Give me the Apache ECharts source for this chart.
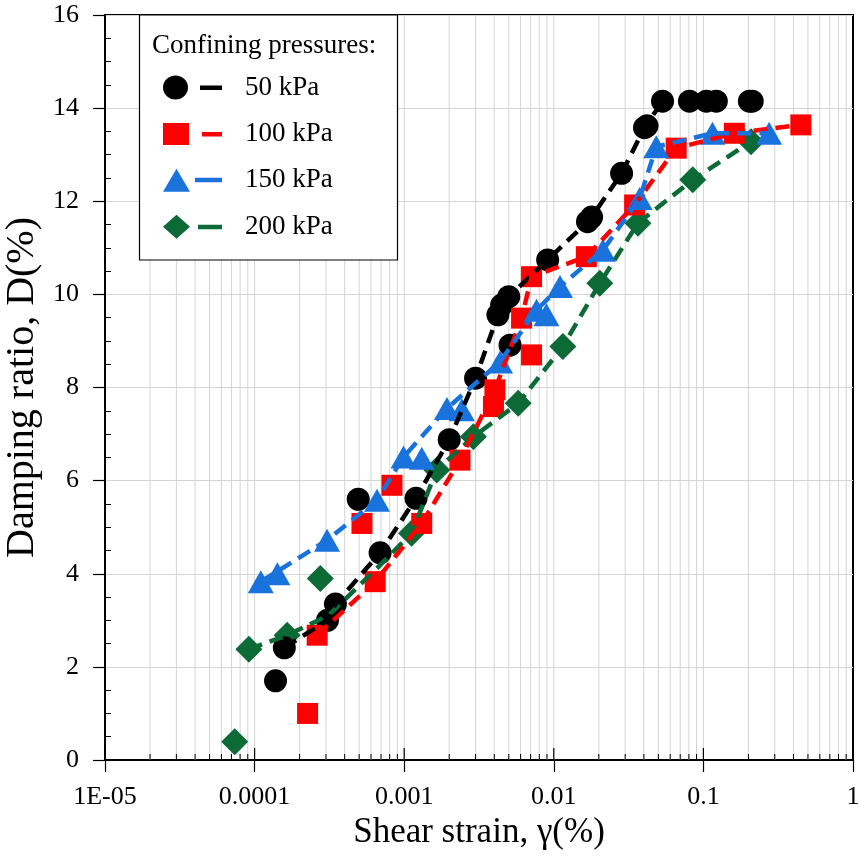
<!DOCTYPE html>
<html>
<head>
<meta charset="utf-8">
<script src="https://cdn.jsdelivr.net/npm/echarts@6/dist/echarts.min.js"></script>
<style>
  html, body { margin: 0; padding: 0; background: #fff; }
  #chart { width: 859px; height: 860px; }
</style>
</head>
<body>
<div id="chart"></div>
<script>
// Damping ratio D(%) versus shear strain γ(%) for four confining pressures.
// Each pressure has measured points [strain, D] and a dashed trend curve.

const pressureNames = ['50 kPa', '100 kPa', '150 kPa', '200 kPa'];

const points50 = [
  [1.38e-4, 1.70], [1.58e-4, 2.41], [3.07e-4, 3.00], [3.47e-4, 3.35], [4.93e-4, 5.60],
  [6.9e-4, 4.45], [1.2e-3, 5.62], [2.0e-3, 6.88], [3.0e-3, 8.20], [4.23e-3, 9.56],
  [4.48e-3, 9.77], [5.0e-3, 9.95], [5.1e-3, 8.91], [9.1e-3, 10.74], [0.0168, 11.56],
  [0.0179, 11.66], [0.0284, 12.60], [0.0404, 13.58], [0.042, 13.62], [0.0533, 14.15],
  [0.0807, 14.15], [0.1047, 14.15], [0.122, 14.15], [0.203, 14.15], [0.212, 14.15]
];
const curve50 = [
  [1.58e-4, 2.41], [3.07e-4, 3.00], [3.47e-4, 3.35], [6.9e-4, 4.45], [1.2e-3, 5.62],
  [2.0e-3, 6.88], [3.0e-3, 8.20], [4.23e-3, 9.56], [4.48e-3, 9.77], [5.0e-3, 9.95],
  [9.1e-3, 10.74], [0.0168, 11.56], [0.0179, 11.66], [0.0284, 12.60], [0.0404, 13.58],
  [0.0533, 14.15]
];

const points100 = [
  [2.26e-4, 1.00], [2.62e-4, 2.68], [5.22e-4, 5.08], [6.4e-4, 3.83], [8.28e-4, 5.90],
  [1.31e-3, 5.08], [2.36e-3, 6.44], [4.04e-3, 7.95], [3.95e-3, 7.59], [6.09e-3, 9.49],
  [7.1e-3, 8.70], [7.1e-3, 10.38], [0.0165, 10.81], [0.0347, 11.92], [0.0658, 13.14],
  [0.161, 13.46], [0.448, 13.64]
];
const curve100 = [
  [2.62e-4, 2.68], [6.4e-4, 3.83], [1.31e-3, 5.08], [2.36e-3, 6.44], [4.04e-3, 7.95],
  [6.09e-3, 9.49], [7.1e-3, 10.38], [0.0165, 10.81], [0.0347, 11.92], [0.0658, 13.14],
  [0.161, 13.46], [0.448, 13.64]
];

const points150 = [
  [1.1e-4, 3.83], [1.42e-4, 4.00], [3.05e-4, 4.72], [6.58e-4, 5.58], [9.9e-4, 6.51],
  [1.31e-3, 6.48], [1.93e-3, 7.55], [2.43e-3, 7.52], [4.37e-3, 8.55], [7.67e-3, 9.66],
  [8.93e-3, 9.56], [0.011, 10.17], [0.0213, 10.95], [0.0375, 12.06], [0.0484, 13.17],
  [0.115, 13.46], [0.275, 13.46]
];
const curve150 = [
  [1.1e-4, 3.83], [3.05e-4, 4.72], [6.58e-4, 5.58], [9.9e-4, 6.51], [1.93e-3, 7.55],
  [4.37e-3, 8.55], [7.67e-3, 9.66], [0.011, 10.17], [0.0213, 10.95], [0.0375, 12.06],
  [0.0484, 13.17], [0.115, 13.46], [0.275, 13.46]
];

const points200 = [
  [7.36e-5, 0.39], [9.16e-5, 2.38], [1.65e-4, 2.68], [2.75e-4, 3.90], [1.12e-3, 4.87],
  [1.65e-3, 6.23], [2.9e-3, 6.94], [5.78e-3, 7.66], [0.0115, 8.88], [0.0203, 10.24],
  [0.0365, 11.53], [0.0849, 12.46], [0.208, 13.28]
];
const curve200 = [
  [9.16e-5, 2.38], [1.65e-4, 2.68], [3.1e-4, 3.10], [6.5e-4, 4.10], [1.12e-3, 4.87],
  [1.65e-3, 6.23], [2.9e-3, 6.94], [5.78e-3, 7.66], [0.0115, 8.88], [0.0203, 10.24],
  [0.0365, 11.53], [0.0849, 12.46], [0.208, 13.28]
];

const xTickLabels = ['1E-05', '0.0001', '0.001', '0.01', '0.1', '1'];

// Minor / major positions of the logarithmic strain grid (1..9 × each decade)
const logGridValues = [];
for (let e = -5; e < 0; e++) {
  for (let m = 1; m <= 9; m++) {
    logGridValues.push([m * Math.pow(10, e), m === 1 ? 1 : 0]);
  }
}

const SERIF = '"Liberation Serif", "DejaVu Serif", serif';
const colors = { '50 kPa': '#000000', '100 kPa': '#ff0000', '150 kPa': '#1a72dc', '200 kPa': '#0b6a36' };

// Legend icons: marker followed by a short dash
const legendIcons = {
  '50 kPa':  'path://M0,12 A12.5,12 0 1,1 25,12 A12.5,12 0 1,1 0,12 Z M37,10 L59,10 L59,14.5 L37,14.5 Z',
  '100 kPa': 'path://M0,1 L26,1 L26,23 L0,23 Z M39,10 L59,10 L59,14.5 L39,14.5 Z',
  '150 kPa': 'path://M13.5,1 L27,24 L0,24 Z M32,10 L59,10 L59,14.5 L32,14.5 Z',
  '200 kPa': 'path://M13.5,0 L27,12 L13.5,24 L0,12 Z M35,10 L59,10 L59,14.5 L35,14.5 Z'
};

function scatterSeries(name, data, symbol, size) {
  return {
    name: name, type: 'scatter', data: data, symbol: symbol, symbolSize: size,
    itemStyle: { color: colors[name], opacity: 1 }, z: 3
  };
}
function curveSeries(name, data) {
  return {
    name: name, type: 'line', data: data, showSymbol: false, symbol: 'none',
    lineStyle: { color: colors[name], width: 4.5, type: [14, 8] },
    itemStyle: { color: colors[name] }, z: 4, silent: true
  };
}

const chart = echarts.init(document.getElementById('chart'), null, { renderer: 'canvas' });

chart.setOption({
  animation: false,
  backgroundColor: '#ffffff',
  title: {
    text: 'Confining pressures:',
    left: 152, top: 32, padding: 0,
    textStyle: { fontFamily: SERIF, fontSize: 27, fontWeight: 'normal', color: '#000' },
    z: 6
  },
  legend: {
    orient: 'vertical',
    left: 163, top: 74, padding: 0,
    itemWidth: 59, itemHeight: 24, itemGap: 19.4,
    data: pressureNames.map(n => ({ name: n, icon: legendIcons[n] })),
    textStyle: { fontFamily: SERIF, fontSize: 27, color: '#000', padding: [0, 0, 0, 18] },
    selectedMode: false,
    z: 6
  },
  graphic: [{
    type: 'rect', z: 5,
    shape: { x: 139.5, y: 15, width: 258, height: 245 },
    style: { fill: '#ffffff', stroke: '#000000', lineWidth: 1.2 }
  }],
  grid: {
    left: 105, right: 6, top: 15, bottom: 100,
    outerBoundsMode: 'none', containLabel: false,
    show: true, borderColor: '#000', borderWidth: 2, backgroundColor: 'transparent'
  },
  xAxis: {
    type: 'log', logBase: 10, min: 1e-5, max: 1,
    name: 'Shear strain, γ(%)', nameLocation: 'middle', nameGap: 52,
    nameTextStyle: { fontFamily: SERIF, fontSize: 35, color: '#000' },
    axisLine: { lineStyle: { color: '#000', width: 2 } },
    axisTick: { show: true, length: 12, lineStyle: { color: '#000', width: 1.2 } },
    axisLabel: {
      margin: 24, fontFamily: SERIF, fontSize: 26, color: '#000',
      formatter: v => xTickLabels[Math.round(Math.log10(v)) + 5]
    },
    splitLine: { show: false }
  },
  yAxis: {
    type: 'value', min: 0, max: 16, interval: 2,
    name: 'Damping ratio, D(%)', nameLocation: 'middle', nameGap: 51,
    nameTextStyle: { fontFamily: SERIF, fontSize: 40, color: '#000' },
    axisLine: { show: true, lineStyle: { color: '#000', width: 2 } },
    axisTick: { show: true, length: 12, lineStyle: { color: '#000', width: 1.2 } },
    minorTick: { show: true, splitNumber: 4, length: -6, lineStyle: { color: '#000', width: 1 } },
    axisLabel: { margin: 26, fontFamily: SERIF, fontSize: 26, color: '#000' },
    splitLine: { show: true, lineStyle: { color: '#d4d4d4', width: 1 } }
  },
  series: [
    {
      // vertical log grid with short inside ticks along the strain axis
      type: 'custom', silent: true, z: 1, clip: true,
      data: logGridValues,
      renderItem: function (params, api) {
        const v = api.value(0);
        const major = api.value(1) === 1;
        const bottom = api.coord([v, 0]);
        const top = api.coord([v, 16]);
        const children = [];
        if (v > 1.0001e-5) {
          children.push({
            type: 'line',
            shape: { x1: bottom[0], y1: bottom[1], x2: top[0], y2: top[1] },
            style: { stroke: '#d4d4d4', lineWidth: 1 }
          });
        }
        children.push({
          type: 'line',
          shape: { x1: bottom[0], y1: bottom[1], x2: bottom[0], y2: bottom[1] - (major ? 12 : 6) },
          style: { stroke: '#000', lineWidth: major ? 1.2 : 1 }
        });
        return { type: 'group', children: children };
      }
    },
    scatterSeries('200 kPa', points200, 'diamond', 27),
    scatterSeries('50 kPa', points50, 'circle', 23),
    scatterSeries('100 kPa', points100, 'rect', 21),
    scatterSeries('150 kPa', points150, 'triangle', [26, 23]),
    curveSeries('200 kPa', curve200),
    curveSeries('50 kPa', curve50),
    curveSeries('100 kPa', curve100),
    curveSeries('150 kPa', curve150)
  ]
});
</script>
</body>
</html>
